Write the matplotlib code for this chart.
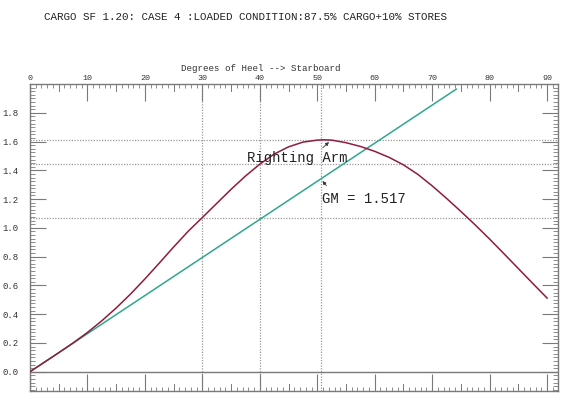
import matplotlib
matplotlib.use("Agg")
import matplotlib.pyplot as plt
from matplotlib.ticker import MultipleLocator

# ---- data ----
heel_deg = [0, 2.5, 5, 7.5, 10, 12.5, 15, 17.5, 20, 22.5, 25, 27.5, 30, 32.5, 35,
            37.5, 40, 42.5, 45, 47.5, 50, 51, 52.5, 55, 57.5, 60, 62.5, 65, 67.5,
            70, 72.5, 75, 77.5, 80, 82.5, 85, 87.5, 90]
righting_arm = [0.0, 0.066, 0.132, 0.200, 0.273, 0.354, 0.443, 0.540, 0.645, 0.755,
                0.867, 0.975, 1.072, 1.170, 1.268, 1.360, 1.443, 1.513, 1.563, 1.596,
                1.610, 1.612, 1.610, 1.592, 1.566, 1.532, 1.490, 1.438, 1.372, 1.292,
                1.205, 1.114, 1.020, 0.922, 0.820, 0.717, 0.614, 0.512]
gm_value = 1.517
gm_line_deg = [0, 57.2958, 74.2]
ref_angles = [30, 40, 50.6]
ref_levels = [1.612, 1.443, 1.072]
x_major_ticks = [0, 10, 20, 30, 40, 50, 60, 70, 80, 90]
y_major_ticks = [0.0, 0.2, 0.4, 0.6, 0.8, 1.0, 1.2, 1.4, 1.6, 1.8]

title = "CARGO SF 1.20: CASE 4 :LOADED CONDITION:87.5% CARGO+10% STORES"
xlabel = "Degrees of Heel --> Starboard"

RED = "#8e1c3e"
GREEN = "#2ea88c"
GRAY = "#7a7a7a"
mono = ["Liberation Mono", "DejaVu Sans Mono"]

fig = plt.figure(figsize=(5.8, 4.05), dpi=100)
ax = fig.add_axes([30 / 580, 1 - 391 / 405, 528 / 580, 307 / 405])
ax.set_xlim(0, 91.9)
ax.set_ylim(-0.134, 2.0)

# reference lines
for a in ref_angles:
    ax.axvline(a, color="#9a9a9a", lw=0.9, ls=(0, (1, 1.2)), zorder=1)
for lv in ref_levels:
    ax.axhline(lv, color="#9a9a9a", lw=0.9, ls=(0, (1, 1.2)), zorder=1)
ax.axhline(0, color=GRAY, lw=1.0, zorder=1)

# GM line
gm_y = [gm_value * d / 57.2958 for d in gm_line_deg]
ax.plot(gm_line_deg, gm_y, color=GREEN, lw=1.1, zorder=2)
# Righting arm curve
ax.plot(heel_deg, righting_arm, color=RED, lw=1.1, zorder=3,
        solid_joinstyle="round")

# annotations
ax.annotate("", xy=(52.4, 1.609), xytext=(50.6, 1.544),
            arrowprops=dict(arrowstyle="-|>", lw=0.6, color="#333333",
                            mutation_scale=5))
ax.text(46.5, 1.489, "Righting Arm", family=mono, fontsize=10,
        ha="center", va="center", color="#222222")
ax.annotate("", xy=(50.6, 1.34), xytext=(51.9, 1.279),
            arrowprops=dict(arrowstyle="-|>", lw=0.6, color="#333333",
                            mutation_scale=5))
ax.text(50.8, 1.203, "GM = 1.517", family=mono, fontsize=10,
        ha="left", va="center", color="#222222")

# ticks
ax.xaxis.set_ticks_position("both")
ax.yaxis.set_ticks_position("both")
ax.set_xticks(x_major_ticks)
ax.set_xticklabels([str(v) for v in x_major_ticks])
ax.xaxis.set_minor_locator(MultipleLocator(1))
ax.set_yticks(y_major_ticks)
ax.set_yticklabels([f"{v:.1f}" for v in y_major_ticks])
ax.yaxis.set_minor_locator(MultipleLocator(0.025))
ax.tick_params(axis="x", which="major", direction="in", length=12.5, width=0.8,
               color=GRAY, top=True, bottom=True, labeltop=True, labelbottom=False,
               labelsize=6, pad=1.5)
ax.tick_params(axis="x", which="minor", direction="in", length=3, width=0.6,
               color=GRAY, top=True, bottom=True)
ax.tick_params(axis="y", which="major", direction="in", length=11.5, width=0.8,
               color=GRAY, left=True, right=True, labelsize=6.5, pad=8)
ax.tick_params(axis="y", which="minor", direction="in", length=3.5, width=0.6,
               color=GRAY, left=True, right=True)
for lab in ax.get_xticklabels() + ax.get_yticklabels():
    lab.set_family(mono)
    lab.set_color("#333333")

# medium ticks at 5 degrees
for d in range(5, 91, 10):
    ax.plot([d, d], [2.0, 2.0 - 6.7 / 143.6], color=GRAY, lw=0.7, clip_on=False)
    ax.plot([d, d], [-0.134, -0.134 + 6.7 / 143.6], color=GRAY, lw=0.7, clip_on=False)

for s in ax.spines.values():
    s.set_color(GRAY)
    s.set_linewidth(1.0)

fig.text(245 / 580, 1 - 17 / 405, title, family=mono, fontsize=7.85,
         ha="center", va="center", color="#222222")
fig.text(261 / 580, 1 - 68.5 / 405, xlabel, family=mono, fontsize=6.6,
         ha="center", va="center", color="#333333")

fig.savefig("out.png", dpi=100, facecolor="white")
